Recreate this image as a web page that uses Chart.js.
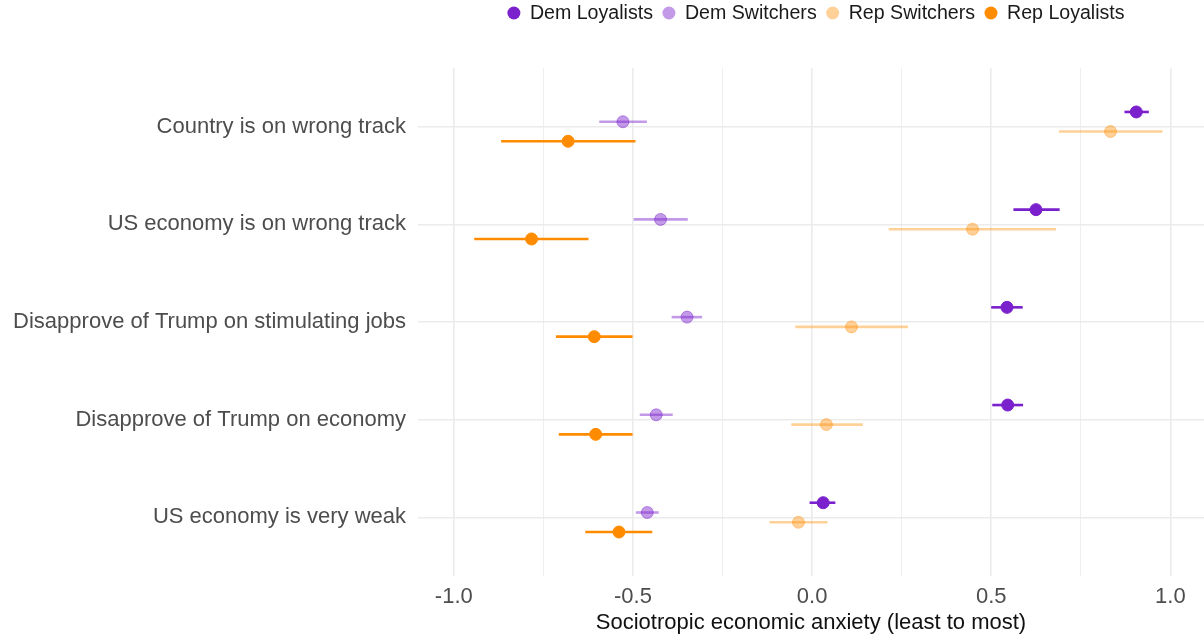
<!DOCTYPE html>
<html>
<head>
<meta charset="utf-8">
<script src="https://cdn.jsdelivr.net/npm/chart.js@4.4.1/dist/chart.umd.min.js"></script>
<style>
html, body { margin: 0; padding: 0; background: #fff; }
#wrap { width: 1204px; height: 643px; }
</style>
</head>
<body>
<div id="wrap"><canvas id="myChart" width="1204" height="643"></canvas></div>
<script>
const categories = [
    'Country is on wrong track',
    'US economy is on wrong track',
    'Disapprove of Trump on stimulating jobs',
    'Disapprove of Trump on economy',
    'US economy is very weak'
];
const seriesNames = ['Dem Loyalists', 'Dem Switchers', 'Rep Switchers', 'Rep Loyalists'];

// estimates and interval ends, one value per category
const demLoyal   = [0.905, 0.625, 0.544, 0.546, 0.031];
const demLoyalLo = [0.872, 0.562, 0.500, 0.503, -0.007];
const demLoyalHi = [0.940, 0.691, 0.588, 0.589, 0.065];

const demSwitch   = [-0.528, -0.423, -0.349, -0.435, -0.460];
const demSwitchLo = [-0.594, -0.498, -0.392, -0.481, -0.492];
const demSwitchHi = [-0.461, -0.347, -0.307, -0.389, -0.428];

const repSwitch   = [0.833, 0.448, 0.110, 0.040, -0.038];
const repSwitchLo = [0.689, 0.214, -0.047, -0.058, -0.119];
const repSwitchHi = [0.978, 0.681, 0.268, 0.142, 0.043];

const repLoyal   = [-0.681, -0.783, -0.608, -0.604, -0.539];
const repLoyalLo = [-0.868, -0.943, -0.715, -0.707, -0.633];
const repLoyalHi = [-0.493, -0.624, -0.501, -0.501, -0.446];

const xMajorTicks = [-1.0, -0.5, 0.0, 0.5, 1.0];

Chart.defaults.font.family = '"Liberation Sans", Arial, Helvetica, sans-serif';

const purple = 'rgb(122, 32, 204)';
const purpleLight = 'rgba(122, 32, 204, 0.45)';
const orange = 'rgb(255, 140, 0)';
const orangeLight = 'rgba(255, 140, 0, 0.4)';

// dodge offset per series, in category units
const dodge = [-0.15, -0.05, 0.05, 0.15];

function makeSet(idx, vals, lo, hi, color) {
    return {
        label: seriesNames[idx],
        data: vals.map((v, i) => ({ x: v, y: i + 1 + dodge[idx] })),
        errLo: lo,
        errHi: hi,
        backgroundColor: color,
        borderColor: color,
        borderWidth: 1,
        pointRadius: 6,
        pointHoverRadius: 6
    };
}

const errorBars = {
    id: 'errorBars',
    beforeDatasetsDraw(chart) {
        const ctx = chart.ctx;
        const xs = chart.scales.x;
        const ys = chart.scales.y;
        ctx.save();
        ctx.lineWidth = 2.6;
        ctx.lineCap = 'butt';
        chart.data.datasets.forEach(ds => {
            ctx.strokeStyle = ds.borderColor;
            ds.data.forEach((p, i) => {
                const y = ys.getPixelForValue(p.y);
                ctx.beginPath();
                ctx.moveTo(xs.getPixelForValue(ds.errLo[i]), y);
                ctx.lineTo(xs.getPixelForValue(ds.errHi[i]), y);
                ctx.stroke();
            });
        });
        ctx.restore();
    }
};

const dotLegend = {
    id: 'dotLegend',
    afterDraw(chart) {
        const ctx = chart.ctx;
        ctx.save();
        ctx.font = '19.6px "Liberation Sans", Arial, sans-serif';
        const r = 6.5, gapIn = 9.5, gapOut = 9.5;
        const items = chart.data.datasets.map(ds => ({
            label: ds.label, color: ds.backgroundColor, w: ctx.measureText(ds.label).width
        }));
        const total = items.reduce((s, it) => s + 2 * r + gapIn + it.w, 0) + gapOut * (items.length - 1);
        let x = (chart.chartArea.left + chart.chartArea.right) / 2 + 5 - total / 2;
        const y = 13;
        items.forEach(it => {
            ctx.beginPath();
            ctx.arc(x + r, y, r, 0, Math.PI * 2);
            ctx.fillStyle = it.color;
            ctx.fill();
            ctx.fillStyle = '#1a1a1a';
            ctx.textBaseline = 'middle';
            ctx.textAlign = 'left';
            ctx.fillText(it.label, x + 2 * r + gapIn, y + 1);
            x += 2 * r + gapIn + it.w + gapOut;
        });
        ctx.restore();
    }
};

new Chart(document.getElementById('myChart'), {
    type: 'scatter',
    data: {
        datasets: [
            makeSet(0, demLoyal, demLoyalLo, demLoyalHi, purple),
            makeSet(1, demSwitch, demSwitchLo, demSwitchHi, purpleLight),
            makeSet(2, repSwitch, repSwitchLo, repSwitchHi, orangeLight),
            makeSet(3, repLoyal, repLoyalLo, repLoyalHi, orange)
        ]
    },
    options: {
        responsive: false,
        animation: false,
        devicePixelRatio: 1,
        layout: { autoPadding: false, padding: { top: 68, right: 0, left: 0, bottom: 0 } },
        plugins: {
            legend: { display: false },
            tooltip: { enabled: false }
        },
        scales: {
            x: {
                type: 'linear',
                min: -1.1,
                max: 1.094,
                border: { display: false },
                grid: {
                    color: '#ebebeb',
                    drawTicks: false,
                    lineWidth: c => (Math.abs(c.tick.value * 2 - Math.round(c.tick.value * 2)) < 1e-6 ? 1.6 : 0.8)
                },
                afterBuildTicks: scale => {
                    const t = [];
                    xMajorTicks.forEach((v, i) => {
                        t.push({ value: v });
                        if (i < xMajorTicks.length - 1) t.push({ value: (v + xMajorTicks[i + 1]) / 2 });
                    });
                    scale.ticks = t;
                },
                afterFit: scale => {
                    scale.height = 67;
                    scale.paddingLeft = 0;
                    scale.paddingRight = 0;
                },
                ticks: {
                    autoSkip: false,
                    maxRotation: 0,
                    padding: 8,
                    color: '#4d4d4d',
                    font: { size: 22 },
                    callback: v => (xMajorTicks.some(m => Math.abs(m - v) < 1e-6) ? v.toFixed(1) : '')
                },
                title: {
                    display: true,
                    text: 'Sociotropic economic anxiety (least to most)',
                    color: '#111',
                    font: { size: 22 },
                    padding: { top: 5, bottom: 7 }
                }
            },
            y: {
                type: 'linear',
                reverse: true,
                min: 0.4,
                max: 5.6,
                border: { display: false },
                grid: { color: '#ebebeb', lineWidth: 1.6, drawTicks: false },
                afterBuildTicks: scale => {
                    scale.ticks = categories.map((c, i) => ({ value: i + 1 }));
                },
                afterFit: scale => {
                    scale.width = 418;
                    scale.paddingTop = 0;
                    scale.paddingBottom = 0;
                },
                ticks: {
                    autoSkip: false,
                    padding: 12,
                    color: '#4d4d4d',
                    font: { size: 22 },
                    callback: v => categories[v - 1]
                }
            }
        }
    },
    plugins: [errorBars, dotLegend]
});
</script>
</body>
</html>
